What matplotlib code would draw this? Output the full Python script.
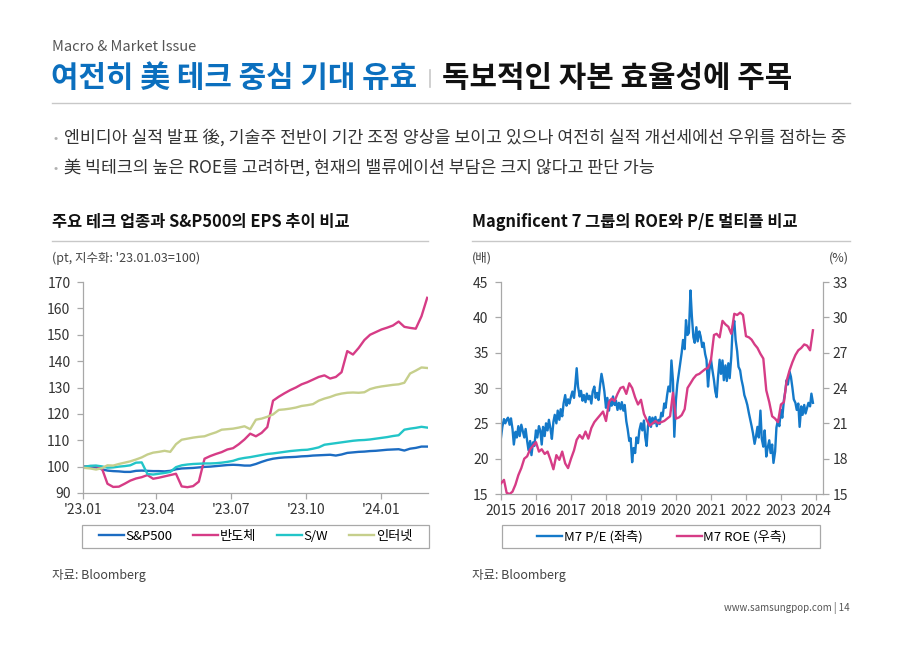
import numpy as np
import pandas as pd
import matplotlib
matplotlib.use("Agg")
import matplotlib.pyplot as plt
from matplotlib.lines import Line2D
from matplotlib.patches import Rectangle

plt.rcParams['font.family'] = ['Noto Sans CJK KR', 'DejaVu Sans']

# ---- left chart: EPS index, weekly from '23.01.03 (=100)
eps_start = '2023-01-03'
sp500 = [100, 99.8, 99.7, 99.0, 98.5, 98.3, 98.2, 98.0, 98.0, 98.4,
         98.5, 98.4, 98.3, 98.3, 98.2, 98.4, 99.0, 99.3, 99.4, 99.5,
         99.7, 99.9, 100.0, 100.2, 100.4, 100.6, 100.7, 100.6, 100.4, 100.4,
         101.0, 101.8, 102.5, 103.0, 103.3, 103.5, 103.6, 103.7, 103.9, 104.0,
         104.2, 104.3, 104.4, 104.5, 104.2, 104.6, 105.2, 105.4, 105.6, 105.7,
         105.9, 106.0, 106.2, 106.4, 106.5, 106.6, 106.1, 106.8, 107.1, 107.6,
         107.6]
semis = [100, 100.2, 100.2, 99.5, 93.5, 92.3, 92.4, 93.5, 94.7, 95.5,
         96.0, 96.8, 95.4, 95.8, 96.3, 96.8, 97.3, 92.5, 92.2, 92.6,
         94.3, 103.0, 104.0, 104.8, 105.5, 106.5, 107.0, 108.5, 110.3, 112.5,
         111.5, 112.8, 115.0, 125.0, 126.5, 127.8, 129.0, 130.0, 131.2, 132.0,
         133.0, 134.0, 134.6, 133.4, 134.0, 135.8, 143.8, 142.5, 145.0, 148.0,
         150.0, 151.0, 152.0, 152.7, 153.5, 155.0, 153.0, 152.6, 152.3, 157.0,
         164.0]
software = [100, 100.3, 100.4, 100.1, 99.6, 99.7, 100.0, 100.2, 100.5, 101.5,
            101.6, 97.2, 97.0, 97.3, 97.6, 98.0, 99.8, 100.5, 100.8, 101.0,
            101.1, 101.2, 101.2, 101.3, 101.5, 101.8, 102.2, 102.9, 103.3, 103.6,
            104.0, 104.4, 104.8, 105.0, 105.3, 105.6, 105.9, 106.1, 106.3, 106.4,
            106.8, 107.3, 108.3, 108.6, 108.9, 109.2, 109.5, 109.8, 110.0, 110.1,
            110.3, 110.6, 110.9, 111.2, 111.6, 111.9, 114.0, 114.4, 114.7, 115.1,
            114.8]
internet = [99.5, 99.3, 98.9, 99.4, 100.5, 100.4, 101.0, 101.5, 102.0, 102.7,
            103.5, 104.6, 105.3, 105.6, 106.0, 105.6, 108.5, 110.2, 110.6, 111.0,
            111.3, 111.5, 112.3, 113.0, 114.0, 114.2, 114.4, 114.8, 115.3, 114.2,
            117.8, 118.2, 118.9, 119.8, 121.5, 121.7, 122.0, 122.4, 123.0, 123.3,
            123.7, 125.0, 125.8, 126.4, 127.2, 127.7, 128.0, 128.1, 128.0, 128.2,
            129.4, 130.0, 130.4, 130.7, 131.0, 131.2, 131.8, 135.3, 136.4, 137.6,
            137.4]
eps_names = ['S&P500', '반도체', 'S/W', '인터넷']
eps_ticks = ['2023-01-01', '2023-04-01', '2023-07-01', '2023-10-01', '2024-01-01']
eps_tick_labels = ["'23.01", "'23.04", "'23.07", "'23.10", "'24.01"]

# ---- right chart: M7 P/E (semi-monthly) and ROE (monthly) from 2015-01
m7_pe = [
    23.0, 24.5, 25.6, 25.0, 25.5, 25.8, 24.8, 25.7, 24.2, 22.0, 23.8, 23.0,
    24.6, 23.2, 24.8, 24.0, 23.0, 24.2, 22.5, 21.2, 22.5, 20.5, 22.3, 21.8,
    24.0, 23.0, 24.6, 24.0, 22.0, 24.5, 23.2, 25.0, 24.0, 25.5, 24.2, 22.8,
    25.2, 26.2, 25.0, 26.8, 25.5, 27.0, 26.0, 27.8, 29.0, 27.5, 28.4, 27.8,
    28.8, 29.5, 28.6, 30.5, 32.8, 30.2, 28.8, 29.6, 28.2, 29.0, 28.0, 29.2,
    28.4, 28.9, 27.8, 29.5, 30.2, 28.6, 29.3, 28.3, 30.5, 32.0, 30.8, 29.5,
    27.2, 28.6, 26.8, 28.3, 27.5, 28.8, 27.6, 28.2, 26.9, 27.9, 27.0, 28.0,
    26.8, 27.6, 25.3, 24.2, 22.5, 22.9, 19.5, 21.5, 20.8, 23.0, 22.2, 24.0,
    25.0, 24.0, 25.4, 23.0, 21.8, 24.6, 25.9, 24.5, 25.8, 25.0, 25.9, 24.6,
    25.5, 24.9, 26.5, 26.0, 27.8, 27.2, 29.0, 30.2, 29.5, 33.9, 31.0, 23.1,
    28.3, 30.5, 32.2, 33.5, 35.0, 36.8, 35.5, 39.6, 37.5, 37.8, 43.8, 40.2,
    37.2, 36.4, 38.6, 36.6, 38.0, 37.3, 35.8, 36.4, 34.8, 34.0, 30.2, 32.5,
    34.0, 32.6, 31.1, 29.5, 28.7, 31.5, 34.0, 32.0, 33.9, 31.1, 33.2, 31.0,
    33.5, 31.4, 34.5, 38.6, 39.5, 36.8, 35.2, 33.0, 32.5, 31.2, 30.2, 29.0,
    28.3, 27.6, 26.4, 25.5, 24.6, 23.6, 22.1, 23.1, 24.5, 23.0, 26.8, 22.8,
    21.7, 24.0, 20.3, 21.5, 22.6, 20.8, 22.0, 19.4, 21.0, 24.4, 25.5, 24.6,
    26.9, 25.8, 28.3, 29.5, 31.1, 30.5, 32.3, 31.6, 30.0, 28.4, 27.9, 26.9,
    27.8, 24.5, 27.4, 26.2, 27.6, 26.4, 27.2, 27.9, 27.4, 29.2, 27.9]
m7_roe = [
    15.9, 16.2, 15.1, 15.0, 15.2, 15.8, 16.6, 17.2, 18.0, 18.2, 18.8, 19.1,
    19.4, 18.6, 18.8, 18.4, 18.6, 17.9, 17.1, 18.3, 17.9, 18.6, 17.6, 17.2,
    18.0, 18.7, 19.6, 20.0, 19.7, 20.3, 19.7, 20.6, 21.1, 21.4, 21.7, 22.0,
    21.2, 22.8, 23.1, 22.9, 23.5, 24.0, 24.1, 23.5, 24.4, 24.0, 23.2, 22.6,
    23.0, 21.8, 21.3, 20.8, 21.0, 21.2, 21.0, 21.1, 21.2, 21.4, 21.6, 23.6,
    21.4, 21.5, 21.7, 22.2, 24.0, 24.4, 24.8, 25.1, 25.2, 25.4, 25.6, 25.7,
    26.4, 28.5, 28.6, 28.3, 29.7, 29.4, 29.2, 28.6, 30.3, 30.2, 30.4, 30.2,
    28.4, 28.3, 28.1, 27.7, 27.4, 26.9, 26.5, 23.8, 22.8, 21.6, 21.4, 21.1,
    22.6, 22.8, 24.6, 25.5, 26.2, 26.8, 27.2, 27.4, 27.7, 27.6, 27.2, 28.9]
m7_names = ['M7 P/E (좌측)', 'M7 ROE (우측)']
years = [2015, 2016, 2017, 2018, 2019, 2020, 2021, 2022, 2023, 2024]

# ---- texts
header = 'Macro & Market Issue'
title_blue = '여전히 美 테크 중심 기대 유효'
title_black = '독보적인 자본 효율성에 주목'
bullets = ['엔비디아 실적 발표 後, 기술주 전반이 기간 조정 양상을 보이고 있으나 여전히 실적 개선세에선 우위를 점하는 중',
           '美 빅테크의 높은 ROE를 고려하면, 현재의 밸류에이션 부담은 크지 않다고 판단 가능']

C_SP, C_SEMI, C_SW, C_NET = '#1c6cc2', '#d63c86', '#22c5c8', '#c6cf8c'
C_PE, C_ROE = '#1479c9', '#d63c86'
GRID_GRAY = '#a8a8a8'
TXT = '#333333'

W, H = 900, 648
fig = plt.figure(figsize=(9, 6.48), dpi=100)


def fx(px):
    return px / W


def fy(py):
    return 1 - py / H


def hline(x0, x1, y, color='#c8c8c8', lw=1.0):
    fig.add_artist(Line2D([fx(x0), fx(x1)], [fy(y), fy(y)], color=color, lw=lw))


# header
fig.text(fx(52), fy(47), header, fontsize=10.5, color='#555555', va='center')
t1 = fig.text(fx(51), fy(78), title_blue, fontsize=21.5, fontweight='bold',
              color='#0b6fbe', va='center')
fig.canvas.draw()
rend = fig.canvas.get_renderer()
x_end = t1.get_window_extent(rend).x1
fig.add_artist(Line2D([fx(x_end + 13)] * 2, [fy(70), fy(87)], color='#c8c8c8', lw=1.2))
fig.text(fx(x_end + 25), fy(78), title_black, fontsize=21.5, fontweight='bold',
         color='#111111', va='center')
hline(52, 850, 103)

for yy, txt in zip([138, 168], bullets):
    fig.text(fx(54), fy(yy), '•', fontsize=9, color='#b0b0b0', va='center')
    fig.text(fx(64), fy(yy), txt, fontsize=12.4, color=TXT, va='center')

# chart titles
fig.text(fx(52), fy(222), '주요 테크 업종과 S&P500의 EPS 추이 비교', fontsize=11.8,
         fontweight='bold', color='#111111', va='center')
fig.text(fx(472), fy(222), 'Magnificent 7 그룹의 ROE와 P/E 멀티플 비교', fontsize=11.8,
         fontweight='bold', color='#111111', va='center')
hline(52, 428, 241)
hline(472, 850, 241)

fig.text(fx(52), fy(258), "(pt, 지수화: '23.01.03=100)", fontsize=9, color='#444444', va='center')
fig.text(fx(472), fy(258), '(배)', fontsize=9, color='#444444', va='center')
fig.text(fx(849), fy(258), '(%)', fontsize=9, color='#444444', va='center', ha='right')

fig.text(fx(52), fy(576), '자료: Bloomberg', fontsize=9, color='#444444', va='center')
fig.text(fx(472), fy(576), '자료: Bloomberg', fontsize=9, color='#444444', va='center')
fig.text(fx(850), fy(608), 'www.samsungpop.com | 14', fontsize=7, color='#555555',
         va='center', ha='right')


def style_axes(ax, sides):
    for s in ['top', 'right', 'left', 'bottom']:
        ax.spines[s].set_visible(s in sides)
        ax.spines[s].set_color(GRID_GRAY)
        ax.spines[s].set_linewidth(0.9)
    ax.tick_params(colors=GRID_GRAY, labelcolor=TXT, labelsize=10, length=4, width=0.9)


# ---- left chart
ax1 = fig.add_axes([fx(83), fy(493), (428 - 83) / W, (493 - 282) / H])
dates = pd.date_range(eps_start, periods=len(sp500), freq='7D')
handles = []
for vals, col, name in zip([sp500, semis, software, internet],
                           [C_SP, C_SEMI, C_SW, C_NET], eps_names):
    ln, = ax1.plot(dates, vals, color=col, lw=1.7, label=name)
    handles.append(ln)
ax1.set_ylim(90, 170)
ax1.set_yticks(range(90, 171, 10))
ax1.set_xlim(pd.Timestamp('2023-01-01'), pd.Timestamp('2024-02-28'))
ax1.set_xticks([pd.Timestamp(d) for d in eps_ticks])
ax1.set_xticklabels(eps_tick_labels)
style_axes(ax1, ['left', 'bottom'])
ax1.tick_params(axis='y', pad=5)
ax1.tick_params(axis='x', pad=3)

ax1.add_patch(Rectangle((-0.003, -0.261), 1.006, 0.109, transform=ax1.transAxes,
                        fill=False, edgecolor=GRID_GRAY, lw=0.9, clip_on=False))
ax1.legend(handles=handles, loc='center', bbox_to_anchor=(0.5, -0.2065), ncol=4,
           frameon=False, fontsize=9.5, handlelength=1.9, handletextpad=0.1,
           columnspacing=1.6, borderaxespad=0)

# ---- right chart
ax2 = fig.add_axes([fx(501), fy(494), (823 - 501) / W, (494 - 282) / H])
ax2r = ax2.twinx()
pe_dates = pd.date_range('2015-01-01', periods=len(m7_pe), freq='SMS')
roe_dates = pd.date_range('2015-01-01', periods=len(m7_roe), freq='MS')
h_pe, = ax2.plot(pe_dates, m7_pe, color=C_PE, lw=1.7)
h_roe, = ax2r.plot(roe_dates, m7_roe, color=C_ROE, lw=1.7)
ax2.set_ylim(15, 45)
ax2.set_yticks(range(15, 46, 5))
ax2r.set_ylim(15, 33)
ax2r.set_yticks(range(15, 34, 3))
ax2.set_xlim(pd.Timestamp('2015-01-01'), pd.Timestamp('2024-03-15'))
ax2.set_xticks([pd.Timestamp(f'{y}-01-01') for y in years])
ax2.set_xticklabels([str(y) for y in years])
style_axes(ax2, ['left', 'bottom'])
style_axes(ax2r, ['right'])
ax2.tick_params(axis='y', pad=5)
ax2.tick_params(axis='x', pad=3)
ax2r.tick_params(axis='y', pad=3)

ax2.add_patch(Rectangle((0.003, -0.255), 0.988, 0.108, transform=ax2.transAxes,
                        fill=False, edgecolor=GRID_GRAY, lw=0.9, clip_on=False))
ax2.legend([h_pe, h_roe], m7_names, loc='center', bbox_to_anchor=(0.5, -0.201), ncol=2,
           frameon=False, fontsize=9.5, handlelength=1.9, handletextpad=0.1,
           columnspacing=2.6, borderaxespad=0)

fig.savefig('out.png', dpi=100)
